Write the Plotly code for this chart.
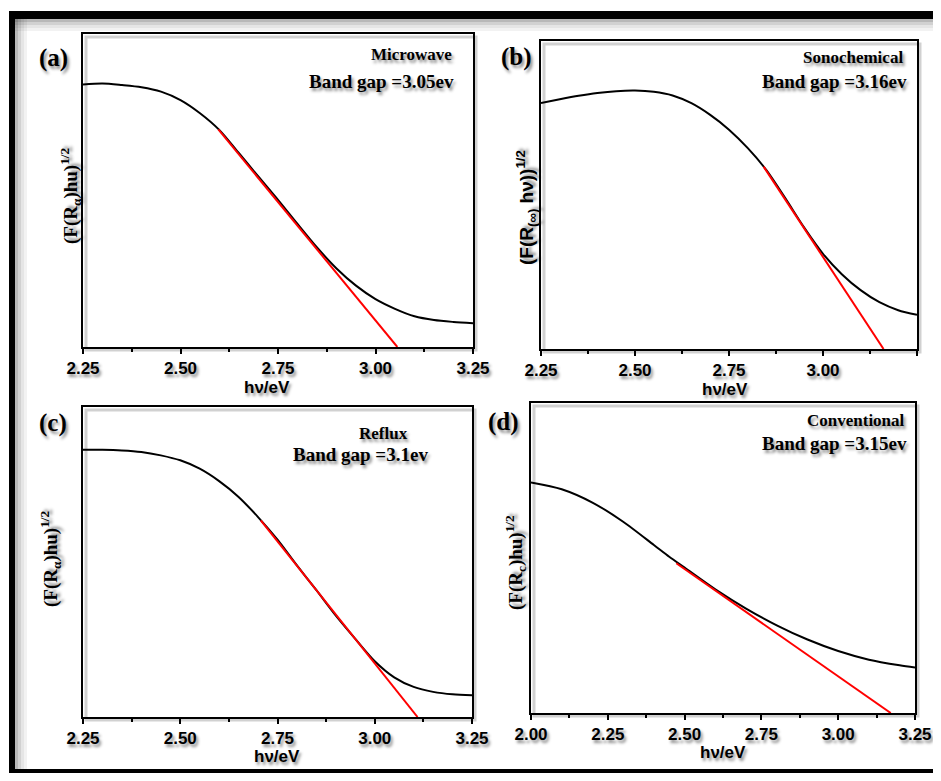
import plotly.graph_objects as go

OFF = 8                 # default page margin of the html body
W, H = 941, 781         # browser window size
FW, FH = W - 2 * OFF, H - 2 * OFF   # figure fits the window without overflow

# ---------------- data (y normalised, arbitrary units) ----------------
a_x = [2.25, 2.30, 2.35, 2.40, 2.45, 2.50, 2.55, 2.60, 2.65, 2.70, 2.75, 2.80, 2.85,
       2.90, 2.95, 3.00, 3.05, 3.10, 3.15, 3.20, 3.25]
a_y = [0.839, 0.842, 0.837, 0.830, 0.816, 0.789, 0.747, 0.693, 0.619, 0.544, 0.470,
       0.393, 0.318, 0.251, 0.196, 0.153, 0.122, 0.098, 0.086, 0.080, 0.076]
a_fit_x = [2.597, 3.056]
a_fit_y = [0.695, 0.0]

b_x = [2.25, 2.30, 2.35, 2.40, 2.45, 2.50, 2.55, 2.60, 2.65, 2.70, 2.75, 2.80, 2.85,
       2.90, 2.95, 3.00, 3.05, 3.10, 3.15, 3.20, 3.25]
b_y = [0.799, 0.811, 0.822, 0.831, 0.837, 0.839, 0.835, 0.823, 0.798, 0.760, 0.712,
       0.652, 0.580, 0.489, 0.394, 0.309, 0.243, 0.191, 0.152, 0.126, 0.111]
b_fit_x = [2.842, 3.161]
b_fit_y = [0.592, 0.0]

c_x = [2.25, 2.30, 2.35, 2.40, 2.45, 2.50, 2.55, 2.60, 2.65, 2.70, 2.75, 2.80, 2.85,
       2.90, 2.95, 3.00, 3.05, 3.10, 3.15, 3.20, 3.25]
c_y = [0.862, 0.862, 0.860, 0.855, 0.844, 0.828, 0.801, 0.761, 0.710, 0.645, 0.572,
       0.489, 0.409, 0.327, 0.252, 0.180, 0.128, 0.097, 0.081, 0.073, 0.070]
c_fit_x = [2.707, 3.11]
c_fit_y = [0.634, 0.0]

d_x = [2.00, 2.10, 2.20, 2.30, 2.40, 2.45, 2.50, 2.60, 2.70, 2.80, 2.90, 3.00, 3.10,
       3.20, 3.25]
d_y = [0.744, 0.722, 0.679, 0.617, 0.542, 0.504, 0.469, 0.399, 0.337, 0.283, 0.237,
       0.200, 0.172, 0.154, 0.147]
d_fit_x = [2.473, 3.171]
d_fit_y = [0.483, 0.0]

panel_tags = ["(a)", "(b)", "(c)", "(d)"]
methods = ["Microwave", "Sonochemical", "Reflux", "Conventional"]
gaps = ["Band gap =3.05ev", "Band gap =3.16ev", "Band gap =3.1ev", "Band gap =3.15ev"]
x_ticks_abc = [2.25, 2.50, 2.75, 3.00, 3.25]
x_ticks_d = [2.00, 2.25, 2.50, 2.75, 3.00, 3.25]
x_title = "hν/eV"
y_titles = [
    "(F(R<sub>α</sub>)hu)<sup>1/2</sup>",
    "(F(R<sub>(∞)</sub> hν))<sup>1/2</sup>",
    "(F(R<sub>α</sub>)hu)<sup>1/2</sup>",
    "(F(R<sub>c</sub>)hu)<sup>1/2</sup>",
]

# ---------------- layout helpers (page pixels -> paper fractions) ----------------
def px(x):
    return (x - OFF) / FW


def py(y):
    return 1 - (y - OFF) / FH


SERIF = "Liberation Serif"
SANS = "Liberation Sans"
SHADOW = "2px 3px 3px rgba(0,0,0,0.45)"

# plot areas in page pixels: (left, top, right, bottom)
areas = [(83, 34, 473, 347), (541, 41, 917, 349), (83, 407, 472, 717), (531, 403, 915, 713)]

fig = go.Figure()

series = [(a_x, a_y, a_fit_x, a_fit_y), (b_x, b_y, b_fit_x, b_fit_y),
          (c_x, c_y, c_fit_x, c_fit_y), (d_x, d_y, d_fit_x, d_fit_y)]

for i, (sx, sy, fx, fy) in enumerate(series):
    ax = "" if i == 0 else str(i + 1)
    fig.add_trace(go.Scatter(x=sx, y=sy, mode="lines",
                             line=dict(color="black", width=2, shape="spline", smoothing=0.8),
                             xaxis="x" + ax, yaxis="y" + ax, showlegend=False,
                             hoverinfo="skip"))
    fig.add_trace(go.Scatter(x=fx, y=fy, mode="lines",
                             line=dict(color="#ff0000", width=2),
                             xaxis="x" + ax, yaxis="y" + ax, showlegend=False,
                             hoverinfo="skip"))

layout = dict(
    width=FW, height=FH,
    margin=dict(l=0, r=0, t=0, b=0, pad=0, autoexpand=False),
    paper_bgcolor="white", plot_bgcolor="white",
    showlegend=False,
)

tick_font = dict(family=SANS, size=17, color="black", weight="bold", shadow=SHADOW)

for i, (l, t, r, b) in enumerate(areas):
    ax = "" if i == 0 else str(i + 1)
    ticks = x_ticks_d if i == 3 else x_ticks_abc
    layout["xaxis" + ax] = dict(
        domain=[px(l), px(r)],
        anchor="y" + ax,
        automargin=False,
        range=[ticks[0], ticks[-1]],
        tickvals=ticks,
        ticktext=["%.2f" % v for v in ticks],
        ticks="outside", ticklen=5, tickwidth=2, tickcolor="black",
        minor=dict(ticks="outside", ticklen=3, tickwidth=1.5, tickcolor="black",
                   dtick=0.125, tick0=ticks[0]),
        showline=True, linecolor="black", linewidth=2, mirror=True,
        showgrid=False, zeroline=False,
        tickfont=tick_font,
    )
    layout["yaxis" + ax] = dict(
        domain=[py(b), py(t)],
        anchor="x" + ax,
        automargin=False,
        range=[0, 1],
        showticklabels=False, ticks="",
        showline=True, linecolor="black", linewidth=2, mirror=True,
        showgrid=False, zeroline=False,
    )

fig.update_layout(**layout)

# ---------------- annotations ----------------
ann = []


def add_text(text, x, y, family, size, xanchor="center", angle=0, bold=True):
    ann.append(dict(
        text=text, x=px(x), y=py(y), xref="paper", yref="paper",
        xanchor=xanchor, yanchor="middle", showarrow=False, textangle=angle,
        font=dict(family=family, size=size, color="black",
                  weight="bold" if bold else "normal", shadow=SHADOW),
    ))


tag_pos = [(53, 58), (516, 57), (53, 423), (503, 422)]
method_pos = [(454, 54, "right"), (905, 58, "right"), (383, 433, "center"), (907, 420, "right")]
gap_pos = [(456, 81, "right"), (909, 81, "right"), (360, 454, "center"), (909, 443, "right")]
xt_pos = [(267, 387), (725, 389), (277, 756), (723, 752)]
yt_pos = [(70, 195, SERIF), (527, 208, SANS), (50, 559, SERIF), (515, 562, SERIF)]

for i in range(4):
    add_text(panel_tags[i], tag_pos[i][0], tag_pos[i][1], SERIF, 25)
    add_text(methods[i], method_pos[i][0], method_pos[i][1], SERIF, 17, method_pos[i][2])
    add_text(gaps[i], gap_pos[i][0], gap_pos[i][1], SERIF, 19, gap_pos[i][2])
    add_text(x_title, xt_pos[i][0], xt_pos[i][1], SANS, 17)
    add_text(y_titles[i], yt_pos[i][0], yt_pos[i][1], yt_pos[i][2], 19, angle=-90)

fig.update_layout(annotations=ann)

# ---------------- outer frame with soft inner shadow ----------------
shapes = []


def rect(x0, y0, x1, y1, color):
    shapes.append(dict(type="rect", xref="paper", yref="paper",
                       x0=max(px(x0), 0), x1=min(px(x1), 1),
                       y0=max(py(y1), 0), y1=min(py(y0), 1),
                       fillcolor=color, line=dict(width=0), layer="below"))


alphas = [0.28, 0.18, 0.10, 0.05]
for k, a in enumerate(alphas):
    c = "rgba(0,0,0,%.2f)" % a
    rect(15 + 3 * k, 19, 18 + 3 * k, 781, c)      # left inner shadow
    rect(15, 19 + 3 * k, 941, 22 + 3 * k, c)      # top inner shadow

rect(9, 11, 941, 19, "black")      # top bar
rect(9, 11, 15, 781, "black")      # left bar
rect(9, 769, 941, 773, "black")    # bottom bar (as low as the page allows)

# subtle shadows of the plot frames
for (l, t, r, b) in areas:
    shapes.append(dict(type="rect", xref="paper", yref="paper",
                       x0=px(l + 3), x1=px(r + 3), y0=py(b + 3), y1=py(t + 3),
                       line=dict(color="rgba(0,0,0,0.18)", width=3), layer="below"))

fig.update_layout(shapes=shapes)

fig.write_html("out.html")
